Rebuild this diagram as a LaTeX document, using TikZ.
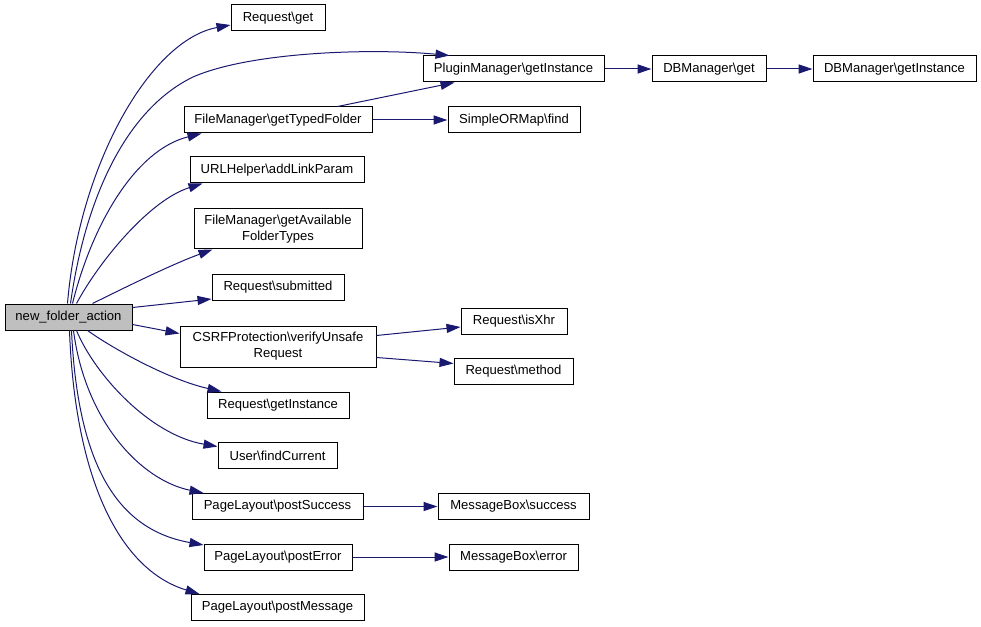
\documentclass[tikz,border=0pt]{standalone}
\usepackage{fontspec}
\setmainfont{Liberation Sans}
\usetikzlibrary{arrows.meta,calc}
\definecolor{edgeblue}{HTML}{191970}
\definecolor{rootgray}{HTML}{BFBFBF}
\tikzset{
  box/.style 2 args={draw=black, line width=0.75pt, inner sep=0pt, align=center,
    font=\fontsize{9.8}{12}\selectfont, minimum width=#1*0.75pt, minimum height=#2*0.75pt},
  edge/.style={draw=edgeblue, line width=0.75pt, -{Triangle[length=10.5pt,width=6.8pt]}}
}
\begin{document}
\begin{tikzpicture}[x=0.75pt,y=-0.75pt]
\useasboundingbox (0,0) rectangle (981,627);
% nodes
\node[box={127}{26}, fill=rootgray] (nfa) at (68.5,317) {new\_folder\_action};
\node[box={94}{26}] (rget) at (278,18) {Request\textbackslash get};
\node[box={181}{26}] (plug) at (513.5,69) {PluginManager\textbackslash getInstance};
\node[box={114}{26}] (dbget) at (709,69) {DBManager\textbackslash get};
\node[box={163}{26}] (dbinst) at (894.5,69) {DBManager\textbackslash getInstance};
\node[box={188}{26}] (typed) at (278,120) {FileManager\textbackslash getTypedFolder};
\node[box={132}{26}] (sorm) at (514,120) {SimpleORMap\textbackslash find};
\node[box={174}{26}] (url) at (277,170) {URLHelper\textbackslash addLinkParam};
\node[box={168}{40}] (avail) at (278,229) {FileManager\textbackslash getAvailable\\FolderTypes};
\node[box={132}{26}] (subm) at (278,287.5) {Request\textbackslash submitted};
\node[box={196}{41}] (csrf) at (278,346.5) {CSRFProtection\textbackslash verifyUnsafe\\Request};
\node[box={106}{26}] (xhr) at (514,321) {Request\textbackslash isXhr};
\node[box={119}{26}] (meth) at (513.5,371.5) {Request\textbackslash method};
\node[box={142}{26}] (rinst) at (278,405) {Request\textbackslash getInstance};
\node[box={119}{26}] (user) at (277.5,455.5) {User\textbackslash findCurrent};
\node[box={171}{26}] (psucc) at (277.5,506.5) {PageLayout\textbackslash postSuccess};
\node[box={151}{26}] (msucc) at (513.5,506.5) {MessageBox\textbackslash success};
\node[box={148}{26}] (perr) at (278,557) {PageLayout\textbackslash postError};
\node[box={129}{26}] (merr) at (513.5,557) {MessageBox\textbackslash error};
\node[box={173}{26}] (pmsg) at (277.5,607.5) {PageLayout\textbackslash postMessage};
% edges from root, upward
\draw[edge] ($(nfa.north west)+(63,0)$) .. controls (79,165) and (150,40) .. ($(rget.west)+(0,7)$);
\draw[edge] ($(nfa.north west)+(66,0)$) .. controls (85,200) and (125,110) .. (193,77)
  .. controls (250,52) and (370,48) .. ($(plug.north west)+(27,0)$);
\draw[edge] ($(nfa.north west)+(68,0)$) .. controls (92,225) and (135,150) .. ($(typed.south west)+(18,0)$);
\draw[edge] ($(nfa.north west)+(72,0)$) .. controls (100,260) and (150,200) .. ($(url.south west)+(13,0)$);
\draw[edge] ($(nfa.north west)+(88,0)$) .. controls (120,290) and (170,265) .. ($(avail.south west)+(19,0)$);
\draw[edge] ($(nfa.north east)+(0,4)$) -- ($(subm.south west)+(0,-2)$);
\draw[edge] ($(nfa.north east)+(0,21)$) -- ($(csrf.north west)+(0,8)$);
% edges from root, downward
\draw[edge] ($(nfa.south west)+(83,0)$) .. controls (115,350) and (170,380) .. ($(rinst.north west)+(15,0)$);
\draw[edge] ($(nfa.south west)+(72,0)$) .. controls (95,375) and (150,435) .. ($(user.west)+(0,-9)$);
\draw[edge] ($(nfa.south west)+(69,0)$) .. controls (85,420) and (140,480) .. ($(psucc.north west)+(12,0)$);
\draw[edge] ($(nfa.south west)+(67,0)$) .. controls (78,470) and (120,530) .. ($(perr.west)+(0,-12)$);
\draw[edge] ($(nfa.south west)+(65,0)$) .. controls (75,480) and (120,570) .. ($(pmsg.north west)+(9,0)$);
% second level edges
\draw[edge] ($(typed.north west)+(154,0)$) -- ($(plug.south west)+(32,0)$);
\draw[edge] (typed.east) -- (sorm.west);
\draw[edge] (plug.east) -- (dbget.west);
\draw[edge] (dbget.east) -- (dbinst.west);
\draw[edge] ($(csrf.north east)+(0,10)$) -- ($(xhr.west)+(0,6)$);
\draw[edge] ($(csrf.south east)+(0,-10)$) -- ($(meth.west)+(0,-8)$);
\draw[edge] (psucc.east) -- (msucc.west);
\draw[edge] (perr.east) -- (merr.west);
\end{tikzpicture}
\end{document}
